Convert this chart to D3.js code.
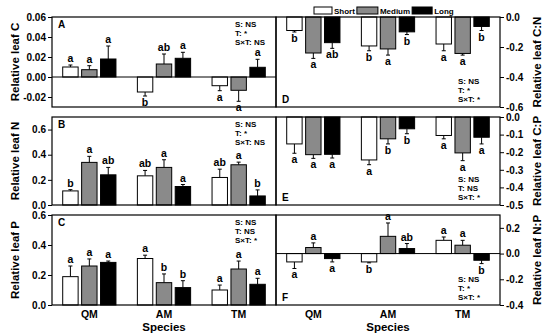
<!DOCTYPE html>
<html><head><meta charset="utf-8">
<script src="https://cdn.jsdelivr.net/npm/d3@7"></script>
<style>
body{margin:0;background:#fff;}
svg text{font-family:"Liberation Sans",Arial,sans-serif;font-weight:bold;fill:#000;}
</style></head><body>
<svg id="c" width="550" height="336"></svg>
<script>
const species = ["QM","AM","TM"];
const treatments = ["Short","Medium","Long"];
const fills = ["#ffffff","#8a8a8a","#000000"];

// Panel A: Relative leaf C
const cMean = [[0.010,0.0073,0.018],[-0.015,0.013,0.0187],[-0.0087,-0.0133,0.0097]];
const cErr  = [[0.002,0.004,0.013],[0.004,0.010,0.006],[0.005,0.011,0.008]];
const cLet  = [["a","a","a"],["b","ab","a"],["a","a","a"]];
const cTicks = [0.06,0.04,0.02,0.00,-0.02];
// Panel B: Relative leaf N
const nMean = [[0.112,0.339,0.24],[0.232,0.299,0.147],[0.219,0.32,0.072]];
const nErr  = [[0.010,0.048,0.059],[0.043,0.061,0.016],[0.066,0.021,0.048]];
const nLet  = [["b","a","ab"],["ab","a","a"],["ab","a","b"]];
const nTicks = [0.0,0.2,0.4,0.6];
// Panel C: Relative leaf P
const pMean = [[0.189,0.26,0.284],[0.31,0.149,0.116],[0.10,0.24,0.138]];
const pErr  = [[0.071,0.047,0.009],[0.022,0.058,0.046],[0.033,0.053,0.040]];
const pLet  = [["a","a","a"],["a","b","b"],["a","a","a"]];
const pTicks = [0.0,0.2,0.4,0.6];
// Panel D: Relative leaf C:N
const cnMean = [[-0.09,-0.24,-0.171],[-0.193,-0.213,-0.099],[-0.18,-0.243,-0.063]];
const cnErr  = [[0.010,0.036,0.038],[0.032,0.041,0.018],[0.045,0.011,0.027]];
const cnLet  = [["b","a","ab"],["b","a","b"],["a","a","b"]];
const cnTicks = [0.0,-0.2,-0.4,-0.6];
// Panel E: Relative leaf C:P
const cpMean = [[-0.153,-0.214,-0.212],[-0.244,-0.124,-0.067],[-0.105,-0.204,-0.115]];
const cpErr  = [[0.053,0.021,0.021],[0.027,0.029,0.028],[0.019,0.044,0.038]];
const cpLet  = [["a","a","a"],["a","b","b"],["a","a","a"]];
const cpTicks = [0.0,-0.1,-0.2,-0.3,-0.4,-0.5];
// Panel F: Relative leaf N:P
const npMean = [[-0.065,0.047,-0.039],[-0.065,0.134,0.039],[0.103,0.065,-0.052]];
const npErr  = [[0.051,0.036,0.026],[0.007,0.104,0.039],[0.026,0.038,0.026]];
const npLet  = [["a","a","a"],["b","a","ab"],["a","a","b"]];
const npTicks = [0.2,0.0,-0.2,-0.4];

const statsA = ["S: NS","T: *","S×T: NS"];
const statsB = ["S: NS","T: *","S×T: NS"];
const statsC = ["S: NS","T: NS","S×T: *"];
const statsD = ["S: NS","T: *","S×T: *"];
const statsE = ["S: NS","T: NS","S×T: *"];
const statsF = ["S: NS","T: *","S×T: *"];

const svg = d3.select("#c");

const cols = [{x0:52,x1:276},{x0:276,x1:500}];
const rows = [{y0:17,y1:107},{y0:117,y1:205},{y0:215,y1:305}];

const panels = [
 {col:0,row:0,mean:cMean,err:cErr,lets:cLet,dom:[-0.03,0.06],ticks:cTicks,fmt:".2f",title:"Relative leaf C",tag:"A",stats:statsA,zero:true},
 {col:0,row:1,mean:nMean,err:nErr,lets:nLet,dom:[0,0.7],ticks:nTicks,fmt:".1f",title:"Relative leaf N",tag:"B",stats:statsB},
 {col:0,row:2,mean:pMean,err:pErr,lets:pLet,dom:[0,0.6],ticks:pTicks,fmt:".1f",title:"Relative leaf P",tag:"C",stats:statsC},
 {col:1,row:0,mean:cnMean,err:cnErr,lets:cnLet,dom:[-0.6,0],ticks:cnTicks,fmt:".1f",title:"Relative leaf C:N",tag:"D",stats:statsD},
 {col:1,row:1,mean:cpMean,err:cpErr,lets:cpLet,dom:[-0.5,0],ticks:cpTicks,fmt:".1f",title:"Relative leaf C:P",tag:"E",stats:statsE},
 {col:1,row:2,mean:npMean,err:npErr,lets:npLet,dom:[-0.4,0.3],ticks:npTicks,fmt:".1f",title:"Relative leaf N:P",tag:"F",stats:statsF,zero:true}
];

panels.forEach(p=>{
  const c = cols[p.col], r = rows[p.row];
  const x = d3.scaleBand().domain(species).range([c.x0,c.x1]);
  const bw = x.bandwidth();
  const xs = d3.scaleBand().domain(treatments).range([bw*0.12, bw*0.88]);
  const barW = xs.bandwidth()*0.815;
  const y = d3.scaleLinear().domain(p.dom).range([r.y1,r.y0]);
  const g = svg.append("g");

  const right = p.col===1;
  const ax = (right? d3.axisRight(y).tickValues(p.ticks) : d3.axisLeft(y).tickValues(p.ticks))
      .tickSize(4).tickPadding(2)
      .tickFormat(d=>{ let s=d3.format(p.fmt)(Math.abs(d)<1e-9?0:d); return s.replace("−","-");});
  const ag = g.append("g").attr("transform",`translate(${right?c.x1:c.x0},0)`).call(ax);
  ag.select(".domain").remove();
  ag.selectAll("line").attr("stroke","#000");
  ag.selectAll("text").style("font-size","10px").attr("fill","#000");

  const data = [];
  species.forEach((s,i)=>treatments.forEach((t,j)=>data.push({s,t,j,v:p.mean[i][j],e:p.err[i][j],l:p.lets[i][j]})));
  const y0 = y(Math.max(p.dom[0],Math.min(p.dom[1],0)));
  const bx = d=>x(d.s)+xs(d.t)+(xs.bandwidth()-barW)/2;
  const cx = d=>bx(d)+barW/2;
  const ye = d=>y(d.v+(d.v>=0?d.e:-d.e));

  g.selectAll(".eb").data(data).join("line")
    .attr("x1",cx).attr("x2",cx).attr("y1",d=>y(d.v)).attr("y2",ye)
    .attr("stroke","#000").attr("stroke-width",1);
  g.selectAll(".cap").data(data).join("line")
    .attr("x1",d=>cx(d)-2).attr("x2",d=>cx(d)+2).attr("y1",ye).attr("y2",ye)
    .attr("stroke","#000").attr("stroke-width",1);

  g.selectAll(".bar").data(data).join("rect")
    .attr("x",bx).attr("width",barW)
    .attr("y",d=>Math.min(y(d.v),y0)).attr("height",d=>Math.abs(y(d.v)-y0))
    .attr("fill",d=>fills[d.j]).attr("stroke","#000").attr("stroke-width",1);

  g.selectAll(".let").data(data).join("text")
    .attr("x",cx).attr("text-anchor","middle").style("font-size","10.5px")
    .attr("y",d=> d.v>=0 ? ye(d)-3 : ye(d)+10)
    .text(d=>d.l);

  if(p.zero){
    g.append("line").attr("x1",c.x0).attr("x2",c.x1).attr("y1",y(0)).attr("y2",y(0)).attr("stroke","#000");
  }
  g.append("rect").attr("x",c.x0).attr("y",r.y0).attr("width",c.x1-c.x0).attr("height",r.y1-r.y0)
    .attr("fill","none").attr("stroke","#000").attr("stroke-width",1.2);

  if(!right){
    g.append("text").attr("x",c.x0+6).attr("y",r.y0+11).style("font-size","10px").text(p.tag);
    p.stats.forEach((s,k)=>g.append("text").attr("x",c.x1-41).attr("y",r.y0+10+k*9).style("font-size","8px").text(s));
  } else {
    g.append("text").attr("x",c.x0+6).attr("y",r.y1-4).style("font-size","10px").text(p.tag);
    p.stats.forEach((s,k)=>g.append("text").attr("x",c.x1-42).attr("y",r.y1-23+k*9).style("font-size","8px").text(s));
  }

  const tx = right? 537 : 15, ty=(r.y0+r.y1)/2;
  g.append("text").attr("transform",`translate(${tx},${ty}) rotate(-90)`)
    .attr("text-anchor","middle").attr("dy","0.35em").style("font-size","11.5px").text(p.title);

  if(p.row===2){
    const xa = d3.axisBottom(x).tickSize(0).tickPadding(6);
    const xg = g.append("g").attr("transform",`translate(0,${r.y1})`).call(xa);
    xg.select(".domain").remove();
    xg.selectAll("text").style("font-size","10.5px").attr("fill","#000");
    g.append("text").attr("x",(c.x0+c.x1)/2).attr("y",331).attr("text-anchor","middle").style("font-size","11.5px").text("Species");
  }
});

const lg = svg.append("g").attr("transform","translate(314,7)");
let lx = 0;
const legendW = [18,21,20];
treatments.forEach((t,i)=>{
  lg.append("rect").attr("x",lx).attr("y",0).attr("width",legendW[i]).attr("height",7).attr("fill",fills[i]).attr("stroke","#000");
  const tt = lg.append("text").attr("x",lx+legendW[i]+2).attr("y",7).style("font-size","8px").text(t);
  lx += legendW[i]+2+tt.node().getComputedTextLength()+2;
});
</script></body></html>
